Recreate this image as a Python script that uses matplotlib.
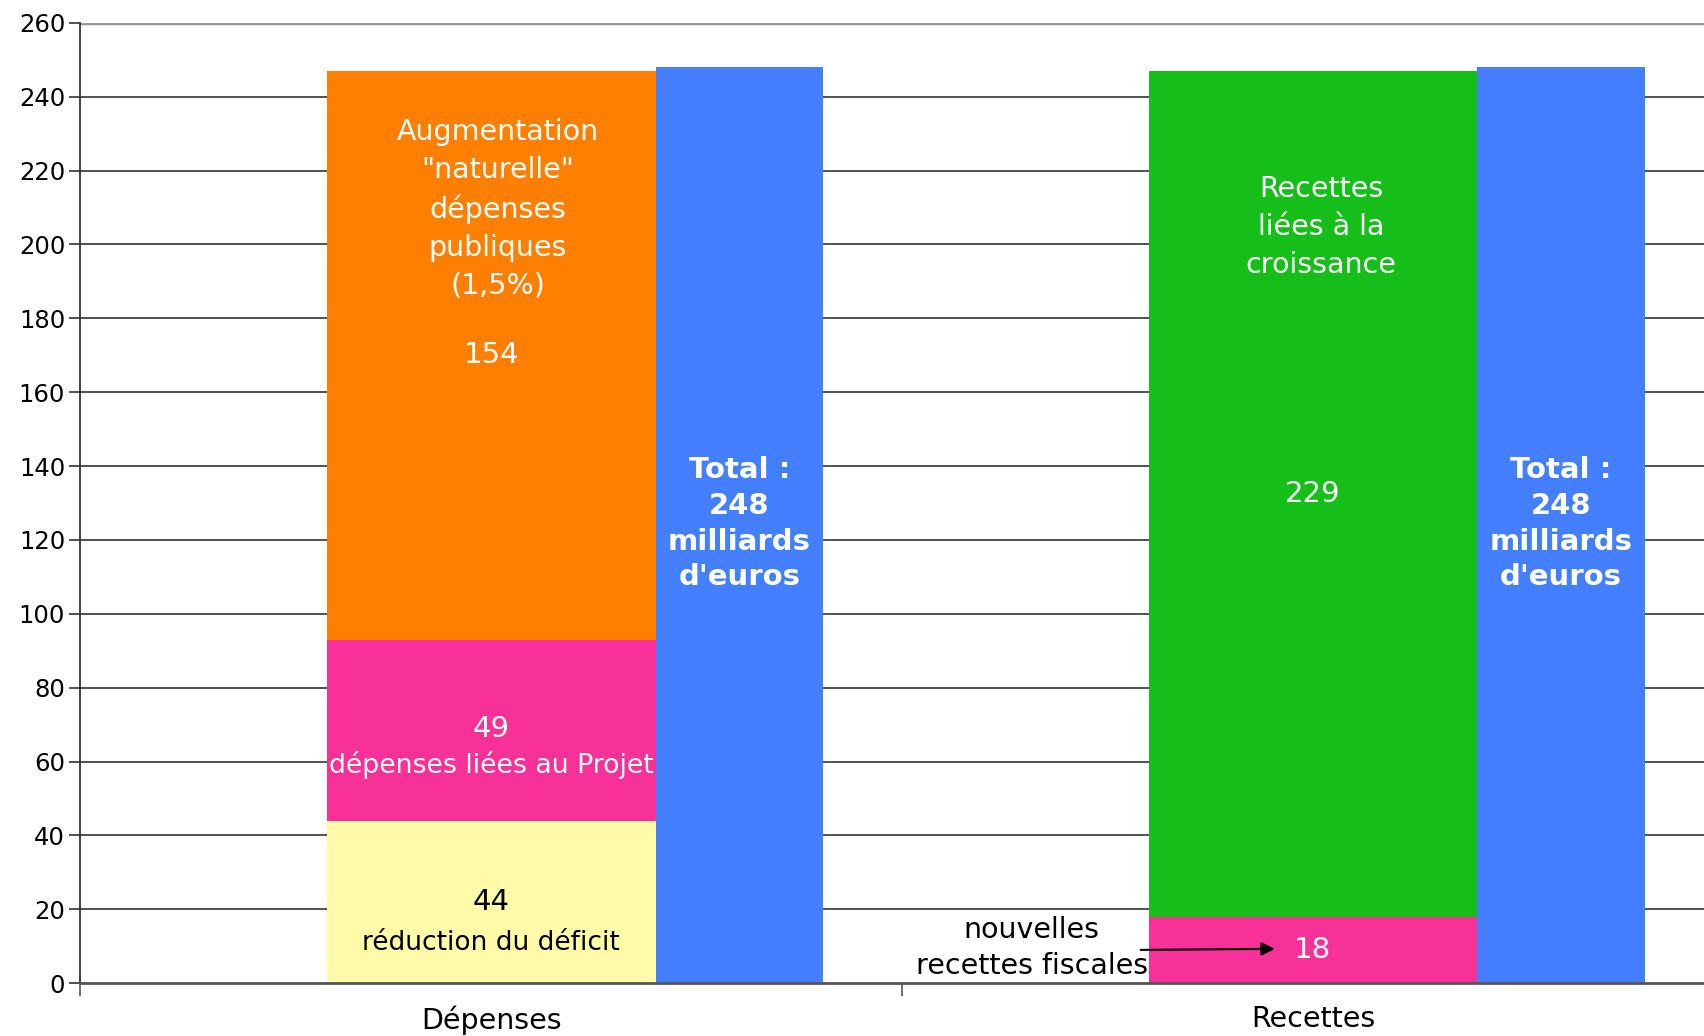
# -*- coding: utf-8 -*-
"""Depenses / Recettes du projet, en milliards d'euros."""

import matplotlib.pyplot as plt

plt.rcParams['savefig.bbox'] = 'standard'

categories = ['Dépenses', 'Recettes']

# Depenses, du bas vers le haut
dep_values = [44, 49, 154]
dep_colors = ['#FFFBA8', '#F73197', '#FF7F00']

# Recettes, du bas vers le haut
rec_values = [18, 229]
rec_colors = ['#F73197', '#16BE1A']

totals = [248, 248]
total_color = '#437FFF'

yticks = list(range(0, 261, 20))

fig = plt.figure(figsize=(17.04, 10.36), dpi=100)
ax = fig.add_axes([0.0472, 0.051, 0.9528, 0.927])

# stacked bars
pos = [0.5, 1.5]
bottom = 0
for v, c in zip(dep_values, dep_colors):
    ax.bar(pos[0], v, width=0.4, bottom=bottom, color=c, zorder=2)
    bottom += v
bottom = 0
for v, c in zip(rec_values, rec_colors):
    ax.bar(pos[1], v, width=0.4, bottom=bottom, color=c, zorder=2)
    bottom += v

# total bars
ax.bar([p + 0.2 for p in pos], totals, width=0.204, align='edge',
       color=total_color, zorder=2)

ax.set_xlim(0, 1.976)
ax.set_ylim(0, 260)
ax.set_yticks(yticks)
ax.set_xticks([0, 1])
ax.set_xticklabels([])
ax.tick_params(axis='y', length=8, width=1.2, labelsize=17.5, pad=3,
               color='#333333')
ax.tick_params(axis='x', length=9, width=1.2, color='#555555')
for yt in yticks[1:-1]:
    ax.axhline(yt, color='#333333', lw=1.2, zorder=1)
ax.axhline(260, color='#999999', lw=2.5, zorder=1)

for s in ['top', 'right']:
    ax.spines[s].set_visible(False)
ax.spines['left'].set_color('#333333')
ax.spines['left'].set_linewidth(1.3)
ax.spines['bottom'].set_color('#555555')
ax.spines['bottom'].set_linewidth(2)
ax.spines['bottom'].set_zorder(3)

for p, name in zip(pos, categories):
    ax.text(p, -6, name, ha='center', va='top', fontsize=20.5)

# labels dans les barres
ax.text(0.508, 209.7, 'Augmentation\n"naturelle"\ndépenses\npubliques\n(1,5%)',
        ha='center', va='center', color='white', fontsize=20.5, linespacing=1.45)
ax.text(0.5, 170, str(dep_values[2]), ha='center', va='center',
        color='white', fontsize=21)
ax.text(0.5, 68.8, str(dep_values[1]), ha='center', va='center',
        color='white', fontsize=21)
ax.text(0.5, 59, 'dépenses liées au Projet', ha='center', va='center',
        color='white', fontsize=19.3)
ax.text(0.5, 22, str(dep_values[0]), ha='center', va='center',
        color='black', fontsize=21)
ax.text(0.5, 10.8, 'réduction du déficit', ha='center', va='center',
        color='black', fontsize=19)

ax.text(1.51, 204.8, 'Recettes\nliées à la\ncroissance', ha='center',
        va='center', color='white', fontsize=20.5, linespacing=1.45)
ax.text(1.5, 132.5, str(rec_values[1]), ha='center', va='center',
        color='white', fontsize=21)
ax.text(1.5, 9, str(rec_values[0]), ha='center', va='center',
        color='white', fontsize=21)
ax.text(1.299, 9.5, 'nouvelles\nrecettes fiscales', ha='right', va='center',
        multialignment='center', color='black', fontsize=20.5,
        linespacing=1.4, zorder=4)
ax.annotate('', xy=(1.457, 9.3), xytext=(1.287, 9.0),
            arrowprops=dict(arrowstyle='-|>', color='black', lw=1.5,
                            mutation_scale=20), zorder=5)

for p, t in zip(pos, totals):
    ax.text(p + 0.302, 124.4, 'Total :\n%d\nmilliards\nd\'euros' % t,
            ha='center', va='center', color='white', fontsize=21,
            fontweight='bold', linespacing=1.35)

fig.savefig('out.png', dpi=100)
